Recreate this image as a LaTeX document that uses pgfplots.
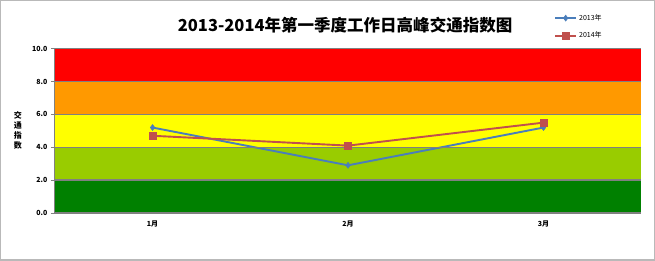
\documentclass[border=0pt]{standalone}
\usepackage{pgfplots}
\pgfplotsset{compat=1.18}
\usepackage{fontspec}
\setmainfont{Noto Sans CJK SC}
\definecolor{bandRed}{RGB}{255,0,0}
\definecolor{bandOrange}{RGB}{255,153,0}
\definecolor{bandYellow}{RGB}{255,255,0}
\definecolor{bandLime}{RGB}{153,204,0}
\definecolor{bandGreen}{RGB}{0,128,0}
\definecolor{lineBlue}{RGB}{74,126,187}
\definecolor{lineRed}{RGB}{192,80,77}
\definecolor{gridGray}{RGB}{128,128,128}
\begin{document}
\begin{tikzpicture}
\begin{axis}[
  scale only axis, width=586pt, height=164pt,
  xmin=0.5, xmax=3.5, ymin=0, ymax=10,
  clip=false,
  axis x line*=bottom, axis y line*=left,
  axis line style={gridGray, line width=1pt, -},
  xtick={1,2,3}, xticklabels={1月,2月,3月},
  major x tick style={draw=none},
  extra x ticks={1.5,2.5}, extra x tick labels={},
  extra x tick style={grid=none, tick style={draw=gridGray, line width=0.6pt}},
  ytick={0,2,4,6,8,10},
  y tick style={draw=gridGray, line width=0.6pt},
  tick align=outside, major tick length=4pt,
  yticklabel style={/pgf/number format/.cd, fixed, fixed zerofill, precision=1, assume math mode=true},
  ticklabel style={font=\fontsize{7}{8}\selectfont\bfseries},
  ymajorgrids, grid style={gridGray, line width=1.2pt},
  axis on top,
  legend style={at={(rel axis cs:0.846,1.235)}, anchor=north west, draw=none, fill=none,
    font=\fontsize{7}{8}\selectfont, row sep=6pt, cells={anchor=west}},
  legend image code/.code={\draw[mark repeat=2, mark phase=2, #1, line width=2pt] plot coordinates {(0cm,0cm) (0.37cm,0cm) (0.74cm,0cm)};},
]
% background bands
\addplot[draw=none, fill=bandRed, forget plot] coordinates {(0.5,10) (3.5,10)} \closedcycle;
\addplot[draw=none, fill=bandOrange, forget plot] coordinates {(0.5,8) (3.5,8)} \closedcycle;
\addplot[draw=none, fill=bandYellow, forget plot] coordinates {(0.5,6) (3.5,6)} \closedcycle;
\addplot[draw=none, fill=bandLime, forget plot] coordinates {(0.5,4) (3.5,4)} \closedcycle;
\addplot[draw=none, fill=bandGreen, forget plot] coordinates {(0.5,2) (3.5,2)} \closedcycle;
% data
\addplot[lineBlue, line width=1.9pt, mark=diamond*, mark size=3pt, mark options={fill=lineBlue, draw=lineBlue, line width=0.5pt}]
  coordinates {(1,5.2) (2,2.9) (3,5.2)};
\addlegendentry{2013年}
\addplot[lineRed, line width=1.9pt, mark=square*, mark size=3.4pt, mark options={fill=lineRed, draw=lineRed, line width=0.5pt}]
  coordinates {(1,4.7) (2,4.1) (3,5.5)};
\addlegendentry{2014年}
% title, y label, frame
\node[font=\fontsize{16.5}{18}\selectfont\bfseries] at (rel axis cs:0.495,1.143) {2013-2014年第一季度工作日高峰交通指数图};
\node[font=\fontsize{8}{10}\selectfont\bfseries, align=center] at (rel axis cs:-0.063,0.5) {交\\通\\指\\数};
\draw[gray!55, line width=1.5pt] (rel axis cs:-0.0922,-0.2866) rectangle (rel axis cs:1.0222,1.2927);
\end{axis}
\end{tikzpicture}
\end{document}
